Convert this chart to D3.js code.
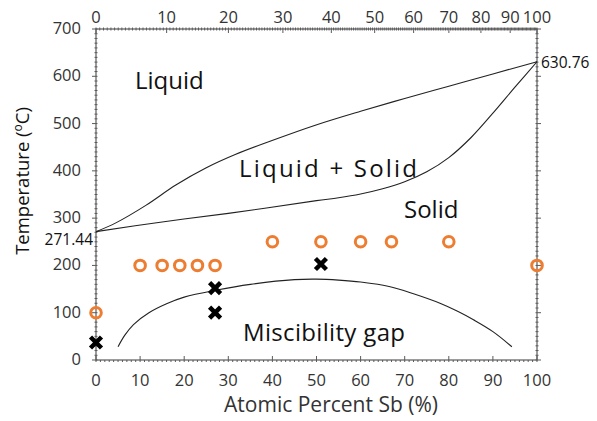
<!DOCTYPE html>
<html>
<head>
<meta charset="utf-8">
<script src="https://cdn.jsdelivr.net/npm/d3@7/dist/d3.min.js"></script>
<style>
  html, body { margin: 0; padding: 0; background: #fff; }
  svg { display: block; font-family: "Open Sans", "Noto Sans", sans-serif; }
</style>
</head>
<body>
<svg id="chart" width="597" height="421"></svg>
<script>
// Bi–Sb phase diagram: atomic % Sb vs temperature (°C)

// Phase boundaries [at% Sb, T °C]
const liquidus = [[0,271.44],[4.5,290],[11.3,327],[18.1,370],[24.9,406],[31.7,435],[39.3,462],[49.9,497],[60,526],[70,553],[80,579],[90,605],[100,630.76]];
const solidus  = [[0,271.44],[15,292],[30,310],[50,337],[55,343],[60,351],[65,362],[70,377],[75,398],[80,428],[85,470],[90,522],[95,577],[100,630.76]];
const miscGap  = [[5,28],[6.5,52],[8.5,75],[12,100],[16,119],[20,133],[27.4,148],[35,160],[45,170],[50,171],[55,169],[60,165],[66.7,155],[72,140],[78,120],[82,103],[85.6,85],[90,60],[94.3,28]];

// Annealed samples (orange circles) and other samples (crosses)
const circlePts = [[0,100],[10,200],[15,200],[19,200],[23,200],[27,200],[40,250],[51,250],[60,250],[67,250],[80,250],[100,200]];
const crossPts  = [[0,37],[27,152],[27,100],[51,203]];

// Tick labels
const xTicks   = [0,10,20,30,40,50,60,70,80,90,100];
const yTicks   = [0,100,200,300,400,500,600,700];
const wtTicks  = [0,10,20,30,40,50,60,70,80,90,100];
const meltBi = 271.44, meltSb = 630.76;

// Atomic masses for the weight-percent axis
const M_Sb = 121.76, M_Bi = 208.98;
const wtToAt = w => { const a = w / M_Sb, b = (100 - w) / M_Bi; return (a + b) === 0 ? 0 : 100 * a / (a + b); };

const svg = d3.select("#chart");
const L = 96, R = 537, T = 29, B = 360;
const x = d3.scaleLinear().domain([0, 100]).range([L, R]);
const y = d3.scaleLinear().domain([0, 700]).range([B, T]);

const axisCol = "#5a5a5a", textCol = "#333";

// Frame
svg.append("rect").attr("x", L).attr("y", T).attr("width", R - L).attr("height", B - T)
  .attr("fill", "none").attr("stroke", axisCol).attr("stroke-width", 1.2);

const ticks = svg.append("g").attr("stroke", axisCol).attr("stroke-width", 1);

// Bottom axis ticks
d3.range(0, 101, 1).forEach(v => {
  const major = v % 10 === 0;
  ticks.append("line").attr("x1", x(v)).attr("x2", x(v))
    .attr("y1", major ? B - 4 : B).attr("y2", B + 2);
});
// Top axis (weight % Sb) ticks
d3.range(0, 100.01, 0.5).forEach(v => {
  const major = v % 10 === 0;
  const px = x(wtToAt(v));
  ticks.append("line").attr("x1", px).attr("x2", px)
    .attr("y1", T - 1.5).attr("y2", major ? T + 4 : T + 1.5);
});
// Left & right axis ticks
d3.range(0, 701, 10).forEach(v => {
  const major = v % 100 === 0;
  ticks.append("line").attr("y1", y(v)).attr("y2", y(v))
    .attr("x1", major ? L - 4 : L - 1.5).attr("x2", L + 1.5);
  ticks.append("line").attr("y1", y(v)).attr("y2", y(v))
    .attr("x1", R - 1.5).attr("x2", major ? R + 4 : R + 1.5);
});

// Tick labels
const lbl = svg.append("g").attr("fill", textCol).attr("font-size", 16.5);
xTicks.forEach(v => lbl.append("text").attr("x", x(v)).attr("y", B + 26)
  .attr("text-anchor", "middle").text(v));
wtTicks.forEach(v => lbl.append("text").attr("x", x(wtToAt(v))).attr("y", T - 6)
  .attr("text-anchor", "middle").text(v));
yTicks.forEach(v => lbl.append("text").attr("x", L - 15).attr("y", y(v) + 5)
  .attr("text-anchor", "end").text(v));

// Melting points
lbl.append("text").attr("x", L - 3).attr("y", y(meltBi) + 13).attr("text-anchor", "end")
  .attr("font-size", 15.5).attr("fill", "#111").text(meltBi.toFixed(2));
lbl.append("text").attr("x", R + 4).attr("y", y(meltSb) + 6).attr("text-anchor", "start")
  .attr("font-size", 15.5).attr("fill", "#111").text(meltSb.toFixed(2));

// Phase boundary lines
const line = d3.line().x(d => x(d[0])).y(d => y(d[1])).curve(d3.curveCatmullRom.alpha(0.5));
[liquidus, solidus, miscGap].forEach(d => svg.append("path").attr("d", line(d))
  .attr("fill", "none").attr("stroke", "#222").attr("stroke-width", 1.1));

// Region labels
const region = svg.append("g").attr("fill", "#111").attr("font-size", 24);
region.append("text").attr("x", 135).attr("y", 89).text("Liquid");
region.append("text").attr("x", 239).attr("y", 177).attr("textLength", 178)
  .attr("lengthAdjust", "spacing").text("Liquid + Solid");
region.append("text").attr("x", 404).attr("y", 218).text("Solid");
region.append("text").attr("x", 243).attr("y", 341).attr("textLength", 162)
  .attr("lengthAdjust", "spacing").text("Miscibility gap");

// Sample markers
svg.append("g").selectAll("circle").data(circlePts).join("circle")
  .attr("cx", d => x(d[0])).attr("cy", d => y(d[1])).attr("r", 5.3)
  .attr("fill", "none").attr("stroke", "#ED7D31").attr("stroke-width", 3);
svg.append("g").selectAll("path").data(crossPts).join("path")
  .attr("transform", d => `translate(${x(d[0])},${y(d[1])})`)
  .attr("d", "M-5.5,-5.5L5.5,5.5M-5.5,5.5L5.5,-5.5")
  .attr("stroke", "#000").attr("stroke-width", 4.5).attr("fill", "none");

// Axis titles
svg.append("text").attr("x", 331).attr("y", 412).attr("text-anchor", "middle")
  .attr("font-size", 21).attr("fill", textCol).text("Atomic Percent Sb (%)");
const yt = svg.append("text").attr("transform", "translate(29,181) rotate(-90)")
  .attr("text-anchor", "middle").attr("font-size", 18.5).attr("fill", "#111");
yt.append("tspan").text("Temperature (");
yt.append("tspan").attr("font-size", 12).attr("dy", -7).text("o");
yt.append("tspan").attr("dy", 7).text("C)");
</script>
</body>
</html>
